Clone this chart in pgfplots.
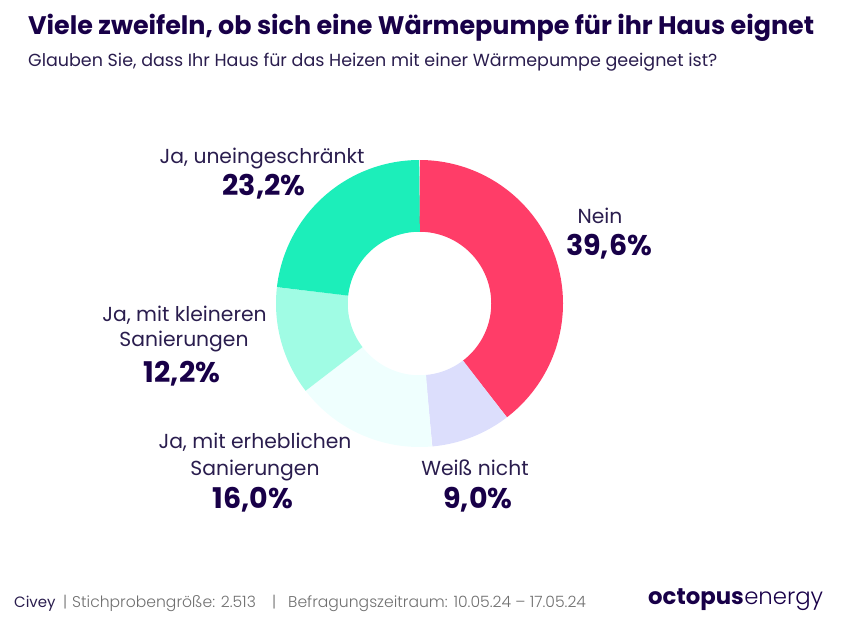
\documentclass[border=0pt]{standalone}
\usepackage{pgfplots}
\pgfplotsset{compat=1.18}
\usepgfplotslibrary{polar}
\usepackage{fontspec}
\setmainfont{Poppins}
\newfontfamily\popLight{Poppins Light}

\definecolor{ink}{HTML}{180048}
\definecolor{labelink}{HTML}{2A1D4E}
\definecolor{foot}{HTML}{707070}
\definecolor{cNein}{HTML}{FF3D68}
\definecolor{cWeiss}{HTML}{DCDEFC}
\definecolor{cErheb}{HTML}{EFFFFE}
\definecolor{cKlein}{HTML}{A0FCE4}
\definecolor{cUnein}{HTML}{1CEEBA}

% survey shares in percent
\def\vNein{39.6}
\def\vWeiss{9.0}
\def\vErheb{16.0}
\def\vKlein{12.2}
\def\vUnein{23.2}

\begin{document}
\begin{tikzpicture}[x=1pt,y=1pt]
\useasboundingbox (0,0) rectangle (850,637);

% cumulative angles, clockwise from twelve o'clock
\pgfmathsetmacro\aA{90}
\pgfmathsetmacro\aB{\aA-3.6*\vNein}
\pgfmathsetmacro\aC{\aB-3.6*\vWeiss}
\pgfmathsetmacro\aD{\aC-3.6*\vErheb}
\pgfmathsetmacro\aE{\aD-3.6*\vKlein}
\pgfmathsetmacro\aF{\aE-3.6*\vUnein}

\begin{polaraxis}[
  at={(419.5pt,333.5pt)}, anchor=center,
  width=287pt, height=287pt, scale only axis,
  ymin=0, ymax=1, hide axis, clip=false,
  every axis plot/.append style={line width=71.75pt, line cap=butt, samples=120},
]
  \addplot[cNein,  domain=\aA:\aB] {0.75};
  \addplot[cWeiss, domain=\aB:\aC] {0.75};
  \addplot[cErheb, domain=\aC:\aD] {0.75};
  \addplot[cKlein, domain=\aD:\aE] {0.75};
  \addplot[cUnein, domain=\aE:\aF] {0.75};
\end{polaraxis}

% headings
\node[anchor=base west, inner sep=0, text=ink, font=\fontsize{25.4}{28}\bfseries]
  at (28,602) {Viele zweifeln, ob sich eine Wärmepumpe für ihr Haus eignet};
\node[anchor=base west, inner sep=0, text=labelink, font=\fontsize{17.5}{20}\selectfont]
  at (28,570) {Glauben Sie, dass Ihr Haus für das Heizen mit einer Wärmepumpe geeignet ist?};

% segment labels
\tikzset{lab/.style={anchor=base, inner sep=0, text=labelink, font=\fontsize{20.3}{22}\selectfont},
         pct/.style={anchor=base, inner sep=0, text=ink, font=\fontsize{28.5}{30}\bfseries}}
\node[lab] at (262,473) {Ja, uneingeschränkt};
\node[pct] at (264,441) {23,2\%};
\node[lab] at (600,413) {Nein};
\node[pct] at (609,381) {39,6\%};
\node[lab] at (184.5,315) {Ja, mit kleineren};
\node[lab] at (184,290) {Sanierungen};
\node[pct] at (182,254) {12,2\%};
\node[lab] at (255,188) {Ja, mit erheblichen};
\node[lab] at (255,161) {Sanierungen};
\node[pct] at (253,129) {16,0\%};
\node[lab] at (475,161) {Weiß nicht};
\node[pct] at (478,129) {9,0\%};

% footer
\tikzset{ft/.style={anchor=base west, inner sep=0, text=foot, font=\fontsize{15.6}{17}\popLight}}
\node[anchor=base west, inner sep=0, text=labelink, font=\fontsize{15}{17}\selectfont] at (14,30) {Civey};
\node[ft] at (63,30) {|};
\node[ft] at (72,30) {Stichprobengröße: 2.513};
\node[ft] at (272,30) {|};
\node[ft] at (288,30) {Befragungszeitraum: 10.05.24 – 17.05.24};
\node[anchor=base west, inner sep=0, text=ink, font=\fontsize{22.8}{25}\bfseries] (oc) at (648,33) {octopus};
\node[anchor=base west, inner sep=0, text=ink, font=\fontsize{22.8}{25}\popLight] at (oc.base east) {energy};
\end{tikzpicture}
\end{document}
